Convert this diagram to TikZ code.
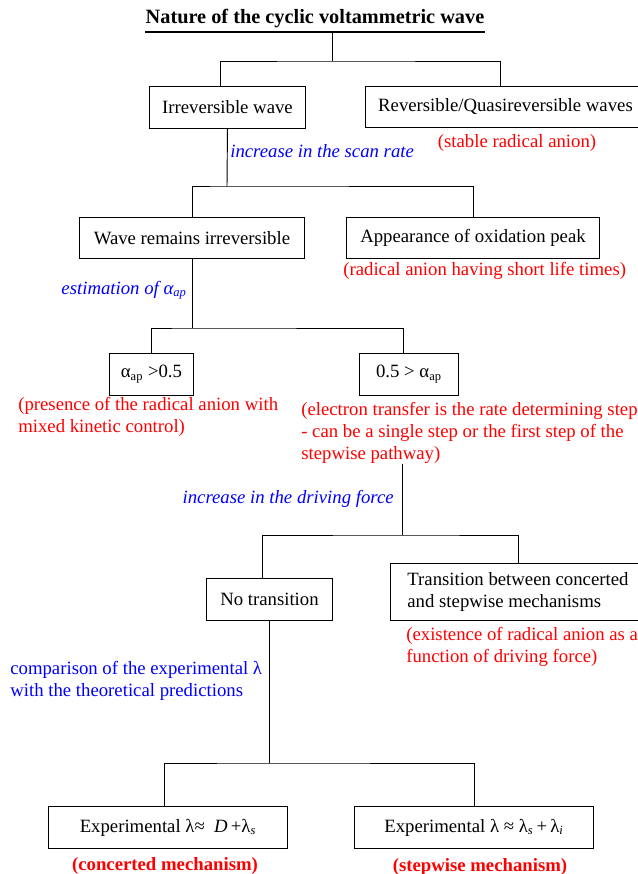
\documentclass[tikz,border=0pt]{standalone}
\usepackage{fontspec}
\setmainfont{Liberation Serif}
\usetikzlibrary{positioning}
\newcommand{\pxl}{*0.64pt}
\newcommand{\txt}{\fontsize{12}{14.08}\selectfont}
\tikzset{
  box/.style ={draw,line width=0.6pt,anchor=north west,inner sep=0pt,
               align=center,font=\txt},
  note/.style={text=red,inner sep=0pt,align=left,font=\txt},
  cue/.style ={text=blue,inner sep=0pt,align=left,font=\txt\itshape},
  ln/.style  ={line width=0.6pt},
}

\begin{document}
\begin{tikzpicture}[x=0.64pt,y=-0.64pt]
\useasboundingbox (0,0) rectangle (638,874);
\node[inner sep=0pt,anchor=base,text depth=9\pxl,
      font=\fontsize{13}{15}\selectfont\bfseries] (T) at (315,23)
      {Nature of the cyclic voltammetric wave};
\draw[line width=1.3pt] (T.south west) -- (T.south east);
% boxes
\node[box,minimum width=156\pxl,minimum height=42\pxl] (irr) at (149,86) {Irreversible wave};
\node[box,minimum width=280\pxl,minimum height=41\pxl] (rev) at (365,86) {Reversible/Quasireversible waves};
\node[box,minimum width=225\pxl,minimum height=41\pxl] (remain) at (79,217) {Wave remains irreversible};
\node[box,minimum width=253\pxl,minimum height=41\pxl] (oxpk) at (346,217) {Appearance of oxidation peak};
\node[box,minimum width=84\pxl,minimum height=42\pxl] (agt) at (109,353) {α\textsubscript{ap} >0.5};
\node[box,minimum width=99\pxl,minimum height=42\pxl] (alt) at (359,353) {0.5 > α\textsubscript{ap}};
\node[box,minimum width=126\pxl,minimum height=42\pxl] (notr) at (206,578) {No transition};
\node[box,minimum width=255\pxl,minimum height=57\pxl,align=left] (trans) at (390,563)
      {Transition between concerted\\and stepwise mechanisms};
\node[box,minimum width=239\pxl,minimum height=42\pxl] (conc) at (48,806)
      {Experimental λ≈\enspace\textit{D}\,+λ\textsubscript{\textit{s}}};
\node[box,minimum width=239\pxl,minimum height=42\pxl] (step) at (354,806)
      {Experimental λ ≈ λ\textsubscript{\textit{s}}\,+\,λ\textsubscript{\textit{i}}};
% notes and cues
\node[note,anchor=base] (revn) at (517,147) {(stable radical anion)};
\node[cue,anchor=base west] (scan) at (230,157) {increase in the scan rate};
\node[note,anchor=base west] (oxn) at (343,275) {(radical anion having short life times)};
\node[cue,anchor=base east] (est) at (187,294) {estimation of α\textsubscript{ap}};
\node[note,anchor=north west] (agtn) at (18,397)
      {(presence of the radical anion with\\mixed kinetic control)};
\node[note,anchor=north west] (altn) at (301,402)
      {(electron transfer is the rate determining step\\- can be a single step or the first step of the\\stepwise pathway)};
\node[cue,anchor=base east] (drive) at (394,503) {increase in the driving force};
\node[note,anchor=north west] (trn) at (406,627)
      {(existence of radical anion as a\\function of driving force)};
\node[cue,anchor=north west,font=\txt] (cmp) at (10,661)
      {comparison of the experimental λ\\with the theoretical predictions};
\node[note,anchor=base,font=\txt\bfseries] (concn) at (165,870) {(concerted mechanism)};
\node[note,anchor=base,font=\txt\bfseries] (stepn) at (480,871) {(stepwise mechanism)};
% connectors
\coordinate (j1) at (332,61);
\coordinate (j2) at (227,186);
\coordinate (j3) at (192,328);
\coordinate (j4) at (402,535);
\coordinate (j5) at (268,763);
\draw[ln] (T.south -| j1) -- (j1);
\draw[ln] ([xshift=-7\pxl]irr.north) |- (j1) -| ([xshift=-5\pxl]rev.north);
\draw[ln] (irr.south) -- (j2);
\draw[ln] (remain.north) |- (j2) -| (oxpk.north);
\draw[ln] (remain.south) -- (remain.south |- j3);
\draw[ln] (agt.north) |- (j3) -| ([xshift=-6\pxl]alt.north);
\draw[ln] (j4 |- altn.south) -- (j4);
\draw[ln] ([xshift=-7\pxl]notr.north) |- (j4) -| (trans.north);
\draw[ln] (notr.south) -- (notr.south |- j5);
\draw[ln] ([xshift=-4\pxl]conc.north) |- (j5) -| (step.north);
\end{tikzpicture}
\end{document}
